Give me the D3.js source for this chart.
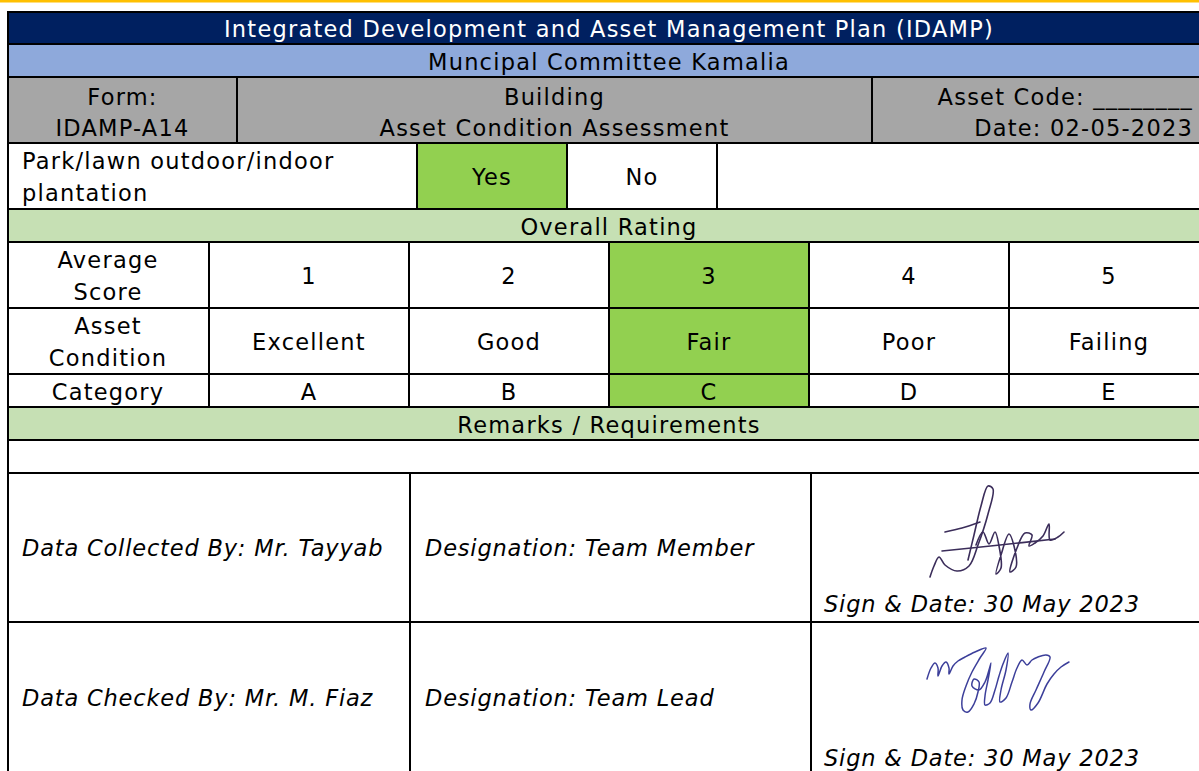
<!DOCTYPE html>
<html><head><meta charset="utf-8">
<script src="https://cdn.jsdelivr.net/npm/d3@7"></script>
<style>html,body{margin:0;padding:0;background:#fff;overflow:hidden}</style>
</head><body><svg id="c" width="1199" height="771"></svg>
<script>
// ---- data ----
const titleText = "Integrated Development and Asset Management Plan (IDAMP)";
const committeeText = "Muncipal Committee Kamalia";
const formLines = ["Form:", "IDAMP-A14"];
const buildingLines = ["Building", "Asset Condition Assessment"];
const codeLines = ["Asset Code: ________", "Date: 02-05-2023"];
const plantationLabel = ["Park/lawn outdoor/indoor", "plantation"];
const plantationOptions = ["Yes", "No"];
const plantationSelected = "Yes";
const ratingHeader = "Overall Rating";
const scoreLabel = ["Average", "Score"];
const scores = [1, 2, 3, 4, 5];
const conditionLabel = ["Asset", "Condition"];
const conditions = ["Excellent", "Good", "Fair", "Poor", "Failing"];
const categoryLabel = ["Category"];
const categories = ["A", "B", "C", "D", "E"];
const selectedScore = 3;
const remarksHeader = "Remarks / Requirements";
const collectedBy = "Data Collected By: Mr. Tayyab";
const collectedDesignation = "Designation: Team Member";
const checkedBy = "Data Checked By: Mr. M. Fiaz";
const checkedDesignation = "Designation: Team Lead";
const signDates = ["Sign & Date: 30 May 2023", "Sign & Date: 30 May 2023"];
// signature strokes
const sig1Strokes = [
  [[945,532],[962,528],[980,522]],
  [[968,560],[974,535],[981,506],[988,486],[993,489],[988,514],[978,545],[969,566],[957,571],[945,565],[939,557],[934,566],[930,577]],
  [[942,551],[1000,545],[1055,539]],
  [[976,545],[983,532],[989,544],[995,532],[999,546],[1001,568],[996,574],[1001,555],[1009,534],[1014,546],[1016,567],[1010,572],[1017,548],[1025,533],[1032,535],[1029,546],[1035,543],[1043,536],[1049,524],[1050,540],[1058,537],[1064,532]]
];
const sig2Strokes = [
  [[927,679],[931,668],[935,663],[938,668],[938,676],[942,666],[946,662],[949,668],[949,674],[953,666],[958,661],[965,657],[975,652],[986,648],[980,658],[972,672],[966,686],[962,700],[963,710],[968,712],[974,704],[978,692],[979,682],[974,679],[972,686],[979,690],[985,682],[989,670],[991,663],[988,680],[985,696],[985,705],[990,703],[995,690],[999,676],[1003,664],[1008,653],[1006,670],[1001,690],[1000,702],[1006,698],[1012,682],[1017,668],[1022,660],[1027,665],[1032,660],[1038,657],[1046,655],[1050,657],[1044,672],[1036,690],[1030,704],[1031,710],[1038,703],[1047,684],[1054,674],[1061,667],[1069,662]]
];

// ---- layout ----
const svg = d3.select("#c");
const FONT = "'DejaVu Sans',sans-serif";
const FS = 22.5;
const L = 8, R = 1210;
const rowY = [12,44,77,143,209,242,308,374,407,440,473,622,790];
const y = i => rowY[i];

svg.append("rect").attr("x",0).attr("y",0).attr("width",1199).attr("height",2.5).attr("fill","#FFC000");

const probe = svg.append("text").attr("font-family",FONT).attr("font-size",FS).text(titleText);
const tw = probe.node().getComputedTextLength(); probe.remove();
const LS = Math.max(-1, (770 - tw) / titleText.length);

const g = svg.append("g");
function cell(x0,x1,r0,r1,fill){
  g.append("rect").attr("x",x0).attr("y",y(r0)).attr("width",x1-x0).attr("height",y(r1)-y(r0))
   .attr("fill",fill).attr("stroke","#000").attr("stroke-width",2);
}
function txt(x,yy,s,opts={}){
  return svg.append("text").attr("x",x).attr("y",yy).text(s)
   .attr("font-family",FONT).attr("font-size",opts.fs||FS)
   .attr("letter-spacing",opts.italic?LS-0.4:LS)
   .attr("fill",opts.fill||"#000").attr("text-anchor",opts.anchor||"middle")
   .attr("font-style",opts.italic?"italic":"normal");
}
const cx = (a,b)=>(a+b)/2;
const mid = 609;

cell(L,R,0,1,"#002060"); txt(mid,37,titleText,{fill:"#fff"});
cell(L,R,1,2,"#8EA9DB"); txt(mid,70,committeeText);
const gx = [L,237,872,R];
for(let i=0;i<3;i++) cell(gx[i],gx[i+1],2,3,"#A6A6A6");
formLines.forEach((s,i)=>txt(cx(gx[0],gx[1]),105+i*31,s));
buildingLines.forEach((s,i)=>txt(cx(gx[1],gx[2]),105+i*31,s));
codeLines.forEach((s,i)=>txt(1193,105+i*31,s,{anchor:"end"}));

const px = d3.scalePoint().domain(plantationOptions).range([417,567]);
const optW = 150;
cell(L,417,3,4,"#fff");
plantationOptions.forEach(o=>{
  const x0 = px(o);
  cell(x0,x0+optW,3,4,o===plantationSelected?"#92D050":"#fff");
  txt(x0+optW/2,185,o);
});
cell(717,R,3,4,"#fff");
plantationLabel.forEach((s,i)=>txt(22,169+i*32,s,{anchor:"start"}));

cell(L,R,4,5,"#C6E0B4"); txt(mid,235,ratingHeader);
const xs = d3.scaleBand().domain(scores).range([209,1209]);
const ratingRows = [
  {r:5,label:scoreLabel,vals:scores},
  {r:6,label:conditionLabel,vals:conditions},
  {r:7,label:categoryLabel,vals:categories}
];
ratingRows.forEach(rr=>{
  cell(L,209,rr.r,rr.r+1,"#fff");
  const top=y(rr.r), bot=y(rr.r+1), h=bot-top;
  if(rr.label.length===2){
    rr.label.forEach((s,i)=>txt(108,top+26+i*32,s));
  } else txt(108,top+26,rr.label[0]);
  scores.forEach((sc,i)=>{
    cell(xs(sc),xs(sc)+xs.bandwidth(),rr.r,rr.r+1,sc===selectedScore?"#92D050":"#fff");
    txt(xs(sc)+xs.bandwidth()/2, h>40?top+42:top+26, rr.vals[i]);
  });
});
cell(L,R,8,9,"#C6E0B4"); txt(mid,433,remarksHeader);
cell(L,R,9,10,"#fff");
const sx = [L,410,811,R];
[[collectedBy,collectedDesignation,10,556],[checkedBy,checkedDesignation,11,706]].forEach((d,k)=>{
  for(let i=0;i<3;i++) cell(sx[i],sx[i+1],d[2],d[2]+1,"#fff");
  txt(22,d[3],d[0],{anchor:"start",italic:true});
  txt(425,d[3],d[1],{anchor:"start",italic:true});
  txt(824,k===0?612:766,signDates[k],{anchor:"start",italic:true});
});
const line = d3.line().curve(d3.curveCatmullRom.alpha(0.5));
sig1Strokes.forEach(s=>svg.append("path").attr("d",line(s)).attr("fill","none").attr("stroke","#3b2d5a").attr("stroke-width",1.6).attr("stroke-linecap","round"));
sig2Strokes.forEach(s=>svg.append("path").attr("d",line(s)).attr("fill","none").attr("stroke","#3c3f9a").attr("stroke-width",1.5).attr("stroke-linecap","round"));
</script></body></html>
